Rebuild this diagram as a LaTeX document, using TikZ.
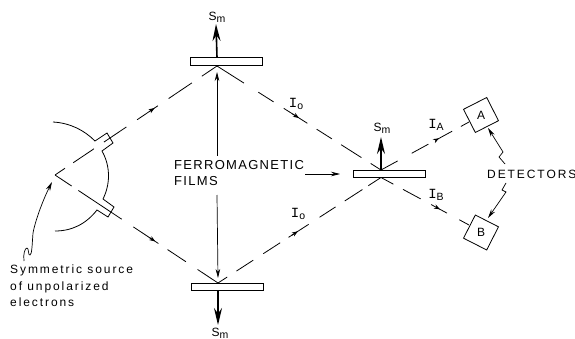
\documentclass[tikz,border=0pt]{standalone}
\usepackage{fontspec}
\setmainfont[LetterSpace=16]{Liberation Sans}
\newfontfamily\slabfont{Liberation Mono}
\newfontfamily\widefont[LetterSpace=10]{Liberation Sans}
\newcommand{\subtext}[1]{\raisebox{-2pt}{\fontsize{10.5}{11}\selectfont #1}}
\newcommand{\beamI}[1]{{\slabfont\fontsize{14}{14}\selectfont I}\subtext{#1}}
\usetikzlibrary{arrows.meta,calc}

\begin{document}
\begin{tikzpicture}[
  x=1pt, y=-1pt,
  font=\fontsize{12}{16.4}\selectfont,
  film/.style={draw, line width=0.8pt, minimum width=72pt, minimum height=7.5pt, inner sep=0pt},
  detector/.style={draw, line width=0.8pt, minimum size=26pt, inner sep=0pt},
  beam/.style={line width=0.8pt},
  spin/.style={-{Stealth[length=17pt,width=8pt]}, line width=1.6pt},
  lead/.style={-{Stealth[length=9pt,width=4.5pt]}, line width=0.7pt},
  flow/.style={-{Stealth[length=6pt,width=4.5pt]}, line width=0.8pt},
  wall/.style={line width=0.8pt},
  lbl/.style={inner sep=0pt, align=left}
]
\useasboundingbox (0,0) rectangle (575,339);

% films and detectors
\node[film] (top) at (226,61.5) {};
\node[film] (bottom) at (227,287) {};
\node[film] (right) at (389,174) {};
\node[detector, rotate=27] (A) at (481,115) {\rotatebox{-27}{A}};
\node[detector, rotate=-27] (B) at (481,232.5) {\rotatebox{27}{B}};

% beam corners
\coordinate (apex) at (55,175);
\coordinate (hittop) at (217,66);
\coordinate (hitbottom) at (218,283);
\coordinate (hitright) at (381,170);
\coordinate (hitrightb) at (381,177.5);
\coordinate (entA) at (469,122);
\coordinate (entB) at (469,225);

% dashed beams
\draw[beam, dash pattern=on 12pt off 10pt on 25pt off 12pt on 27pt off 13pt on 25pt off 13pt on 28pt off 12pt on 20pt off 10pt] (apex) -- (hittop);
\draw[beam, dash pattern=on 20pt off 8pt on 52pt off 14pt on 30pt off 11pt on 22pt off 14pt on 26pt off 10pt] (apex) -- (hitbottom);
\draw[beam, dash pattern=on 32pt off 17pt on 18pt off 12pt on 28pt off 11pt on 18pt off 11pt on 24pt off 11pt on 16pt off 10pt] (hittop) -- (hitright);
\draw[beam, dash pattern=on 11pt off 11pt on 20pt off 12pt on 20pt off 10pt on 24pt off 13pt on 19pt off 11pt on 21pt off 7pt on 17pt off 10pt] (hitbottom) -- (hitrightb);
\draw[beam, dash pattern=on 19pt off 16pt on 19pt off 9pt on 18pt off 10pt on 10pt off 10pt] (hitright) -- (entA);
\draw[beam, dash pattern=on 14pt off 11pt on 20pt off 12pt on 18pt off 14pt on 12pt off 10pt] (hitrightb) -- (entB);

% small arrowheads on the beams
\draw[flow] ($(apex)!0.58!(hittop)$) -- ($(apex)!0.615!(hittop)$);
\draw[flow] ($(apex)!0.58!(hitbottom)$) -- ($(apex)!0.615!(hitbottom)$);
\draw[flow] ($(hittop)!0.46!(hitright)$) -- ($(hittop)!0.50!(hitright)$);
\draw[flow] ($(hitbottom)!0.45!(hitrightb)$) -- ($(hitbottom)!0.49!(hitrightb)$);
\draw[flow] ($(hitright)!0.62!(entA)$) -- ($(hitright)!0.66!(entA)$);
\draw[flow] ($(hitrightb)!0.63!(entB)$) -- ($(hitrightb)!0.67!(entB)$);

% spins
\coordinate (topS) at (216,24);
\coordinate (bottomS) at (218,325);
\coordinate (rightS) at (381,137);
\draw[spin] (top.north -| hittop) -- (topS);
\draw[spin] (bottom.south -| hitbottom) -- (bottomS);
\draw[spin] (right.north -| hitright) -- (rightS);
\node[lbl] (topSm) at (217,17) {S\subtext{m}};
\node[lbl] (bottomSm) at (220,333) {S\subtext{m}};
\node[lbl] (rightSm) at (382,128) {S\subtext{m}};

% source
\coordinate (s1) at (53,122);
\coordinate (s2) at (95,141);
\coordinate (s3) at (107,133);
\coordinate (s4) at (113,143);
\coordinate (s5) at (102,151);
\coordinate (s6) at (103,199);
\coordinate (s7) at (114,207);
\coordinate (s8) at (108,217);
\coordinate (s9) at (97,210);
\coordinate (s10) at (55,231);
\draw[wall] (s1) .. controls (70,123) and (84,130) .. (s2) -- (s3) -- (s4) -- (s5)
  .. controls (111,167) and (110,185) .. (s6) -- (s7) -- (s8) -- (s9)
  .. controls (86,224) and (72,231) .. (s10);

% labels
\node[lbl, anchor=west, font=\widefont\fontsize{13}{16.4}\selectfont] (films) at (174,173) {FERROMAGNETIC\\FILMS};
\node[lbl, anchor=west] (detectors) at (487,174) {DETECTORS};
\node[lbl, anchor=north west] (source) at (10,265) {Symmetric source\\of unpolarized\\electrons};
\node[lbl] (I1) at (296,104) {\beamI{o}};
\node[lbl] (I2) at (298,214) {\beamI{o}};
\node[lbl] (I3) at (436,125) {\beamI{A}};
\node[lbl] (I4) at (436,195) {\beamI{B}};

% pointers
\coordinate (filmup) at (217,156);
\coordinate (filmdown) at (217,195);
\coordinate (filmright) at (305,174);
\coordinate (filmtip) at (340,174);
\draw[lead] (filmup) -- (217,72);
\draw[lead] (filmdown) -- (218,278);
\draw[lead] (filmright) -- (filmtip);
\coordinate (tailS) at (24,261);
\coordinate (tailA) at (505,164);
\coordinate (tailB) at (506,183);
\draw[lead] (tailS) .. controls (23,254) and (25,248) .. (27,248) .. controls (29,248) and (28,256) .. (30,255)
  .. controls (32,254) and (32,246) .. (33,233) .. controls (35,222) and (42,202) .. (52,182);
\draw[lead] (tailA) -- (499,157) -- (503,152) -- (488,128);
\draw[lead] (tailB) -- (502,190) -- (506,192) -- (488,218);
\end{tikzpicture}
\end{document}
